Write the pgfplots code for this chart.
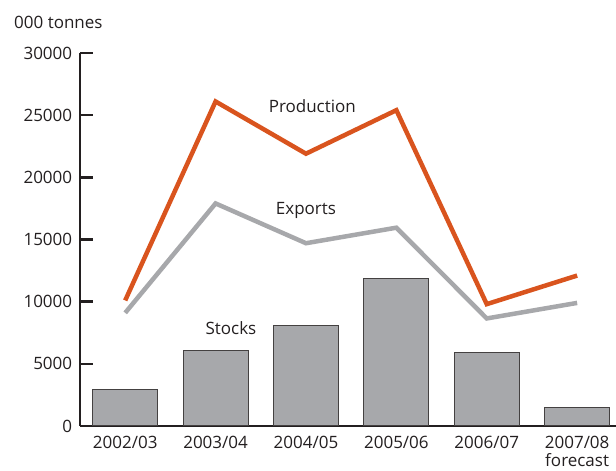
\documentclass[border=0pt]{standalone}
\usepackage{pgfplots}
\pgfplotsset{compat=1.18}
\usepackage{fontspec}
\setmainfont{Open Sans}
\definecolor{prod}{HTML}{D9541E}
\definecolor{expo}{HTML}{A7A8AB}
\definecolor{barc}{HTML}{A7A8AB}
\definecolor{axisc}{HTML}{231F20}
\begin{document}
\fontsize{17}{19}\selectfont
\begin{tikzpicture}[x=1pt,y=1pt]
\useasboundingbox (-80,-45) rectangle (536,426);
\begin{axis}[at={(0,0)}, anchor=south west, scale only axis,
  width=536pt, height=373pt,
  xmin=-0.5, xmax=5.43, ymin=0, ymax=30000,
  axis lines=left, axis line style={-, line width=2.5pt, color=axisc},
  xtick={0,...,5},
  xticklabels={2002/03,2003/04,2004/05,2005/06,2006/07,{2007/08\\[-1pt]forecast}},
  xticklabel style={align=center, text=axisc, font=\fontsize{17}{19}\selectfont, yshift=-4pt},
  x tick style={draw=none},
  ytick={0,5000,...,30000},
  scaled y ticks=false,
  yticklabel style={text=axisc, xshift=-2pt},
  y tick style={line width=2.5pt, color=axisc},
  tick align=inside, major tick length=13pt,
  /pgf/number format/1000 sep={},
  /pgf/number format/assume math mode=true,
  clip=false,
]
\addplot[ybar, bar width=65pt, fill=barc, draw=axisc!85, line width=1pt] coordinates {
  (0,2950) (1,6100) (2,8050) (3,11850) (4,5950) (5,1520)};
\addplot[expo, line width=4.5pt] coordinates {
  (0,9100) (1,17900) (2,14700) (3,15950) (4,8650) (5,9900)};
\addplot[prod, line width=4.5pt] coordinates {
  (0,10100) (1,26100) (2,21900) (3,25400) (4,9800) (5,12100)};
\node[text=axisc] at (axis cs:2.07,25750) {Production};
\node[text=axisc] at (axis cs:2.0,17300) {Exports};
\node[text=axisc] at (axis cs:1.17,7900) {Stocks};
\end{axis}
\node[anchor=west, text=axisc, inner sep=0pt] at (-66,404) {000 tonnes};
\end{tikzpicture}
\end{document}
